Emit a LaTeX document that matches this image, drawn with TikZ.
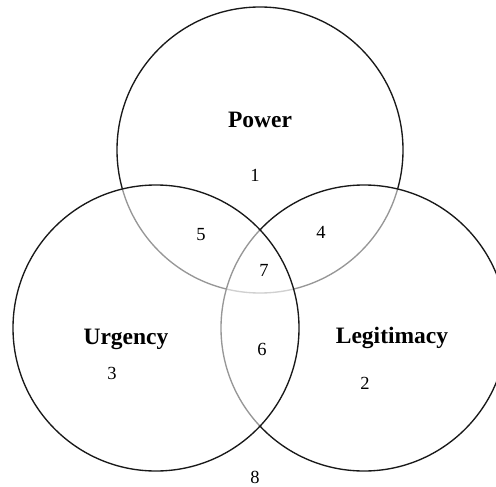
\documentclass[tikz,border=0pt]{standalone}
\usepackage{fontspec}
\setmainfont{Liberation Serif}
\begin{document}
\begin{tikzpicture}[x=1bp,y=-1bp,
  ring/.style={draw=black!90,line width=1.35bp},
  veil/.style={ring,fill=white,fill opacity=0.55,draw opacity=1},
  setlabel/.style={font=\fontsize{23.5bp}{26bp}\selectfont\bfseries,inner sep=0},
  region/.style={font=\fontsize{18.5bp}{20bp}\selectfont,inner sep=0}]
\useasboundingbox (0,0) rectangle (496,487);
\clip (0,0) rectangle (496,487);
\node[ring,circle,minimum size=286bp,inner sep=0] (P) at (260,150) {};
\node[veil,circle,minimum size=286bp,inner sep=0] (L) at (364,328) {};
\node[veil,circle,minimum size=286bp,inner sep=0] (U) at (156,328) {};
\node[setlabel] (tP) at (260,120) {Power};
\node[setlabel] (tU) at (126,339) {Urgency};
\node[setlabel] (tL) at (392,338) {Legitimacy};
\node[region] (r1) at (255,175) {1};
\node[region] (r2) at (365,383) {2};
\node[region] (r3) at (112,373) {3};
\node[region] (r4) at (321,232) {4};
\node[region] (r5) at (201,235) {5};
\node[region] (r6) at (262,349) {6};
\node[region] (r7) at (264,270) {7};
\node[region] (r8) at (255,477) {8};
\end{tikzpicture}
\end{document}
